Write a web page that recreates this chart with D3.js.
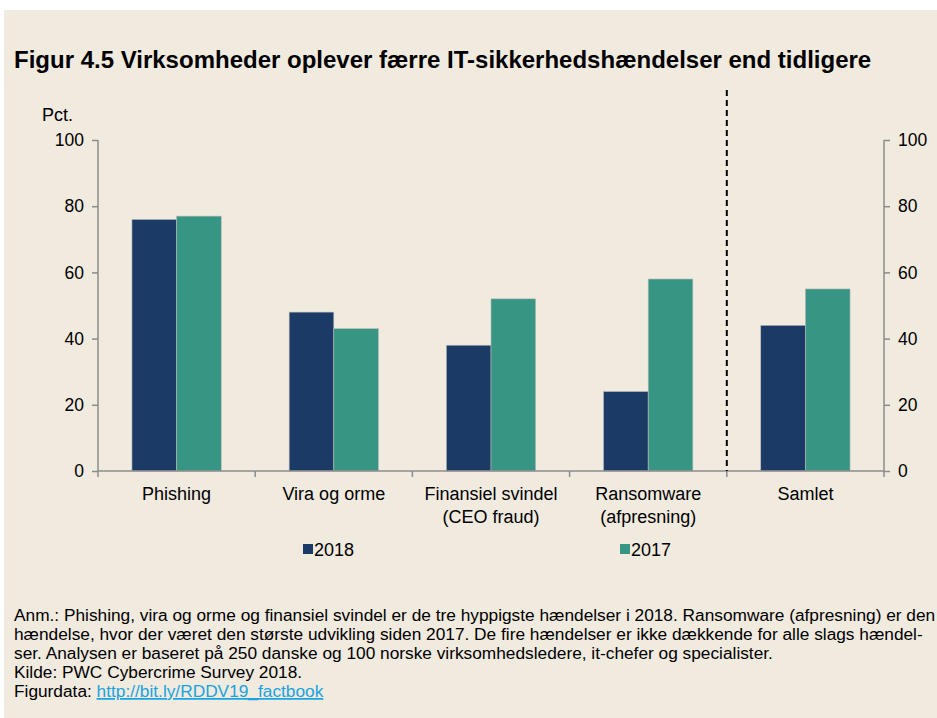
<!DOCTYPE html>
<html>
<head>
<meta charset="utf-8">
<script src="https://cdn.jsdelivr.net/npm/d3@7"></script>
<style>
  html, body { margin: 0; padding: 0; background: #ffffff; }
  svg { display: block; }
  text { font-family: "Liberation Sans", Arial, sans-serif; }
</style>
</head>
<body>
<svg id="chart" width="937" height="718"></svg>
<script>
// Chart data
const categories = ["Phishing", "Vira og orme", "Finansiel svindel\n(CEO fraud)", "Ransomware\n(afpresning)", "Samlet"];
const series2018 = [76, 48, 38, 24, 44];
const series2017 = [77, 43, 52, 58, 55];
const seriesNames = ["2018", "2017"];
const yTicks = [0, 20, 40, 60, 80, 100];

const title = "Figur 4.5 Virksomheder oplever færre IT-sikkerhedshændelser end tidligere";
const notes = [
  "Anm.: Phishing, vira og orme og finansiel svindel er de tre hyppigste hændelser i 2018. Ransomware (afpresning) er den",
  "hændelse, hvor der været den største udvikling siden 2017. De fire hændelser er ikke dækkende for alle slags hændel-",
  "ser. Analysen er baseret på 250 danske og 100 norske virksomhedsledere, it-chefer og specialister.",
  "Kilde: PWC Cybercrime Survey 2018."
];
const linkLabel = "Figurdata: ";
const linkText = "http://bit.ly/RDDV19_factbook";

(function draw() {
  const colors = { "2018": "#1b3a66", "2017": "#379584" };
  const axisColor = "#8c8c8c";

  const svg = d3.select("#chart");

  // Beige panel
  svg.append("rect").attr("x", 4).attr("y", 10).attr("width", 933).attr("height", 708).attr("fill", "#f0eadf");

  // Title
  svg.append("text").attr("x", 14).attr("y", 68)
    .attr("font-size", 24).attr("font-weight", "bold").attr("fill", "#000")
    .text(title);

  // Plot geometry
  const plotL = 98, plotR = 884, plotT = 140, plotB = 471;

  const x = d3.scaleBand().domain(d3.range(categories.length)).range([plotL, plotR]).padding(0);
  const y = d3.scaleLinear().domain([0, 100]).range([plotB, plotT]);
  const barW = x.bandwidth() * 0.284;

  // Bars
  const g = svg.append("g");
  categories.forEach((c, i) => {
    const cx = x(i) + x.bandwidth() / 2;
    [["2018", series2018[i], cx - barW], ["2017", series2017[i], cx]].forEach(([name, v, bx]) => {
      g.append("rect")
        .attr("x", bx).attr("y", y(v))
        .attr("width", barW).attr("height", y(0) - y(v))
        .attr("fill", colors[name])
        .attr("stroke", "#b8b8b8").attr("stroke-width", 0.6);
    });
  });

  // Left and right value axes
  const gl = svg.append("g").attr("transform", `translate(${plotL},0)`)
    .call(d3.axisLeft(y).tickValues(yTicks).tickSize(6).tickPadding(8));
  const gr = svg.append("g").attr("transform", `translate(${plotR},0)`)
    .call(d3.axisRight(y).tickValues(yTicks).tickSize(6).tickPadding(8));
  [gl, gr].forEach(a => {
    a.select(".domain").attr("stroke", axisColor).attr("stroke-width", 1.5).attr("d", `M0,${plotT}V${plotB}`);
    a.selectAll(".tick line").attr("stroke", axisColor).attr("stroke-width", 1.5);
    a.selectAll(".tick text").attr("font-size", 17.5).attr("fill", "#000")
      .attr("font-family", "Liberation Sans, Arial, sans-serif");
  });

  // Bottom axis line with ticks at category boundaries
  svg.append("line").attr("x1", plotL).attr("x2", plotR).attr("y1", plotB).attr("y2", plotB)
    .attr("stroke", axisColor).attr("stroke-width", 1.5);
  d3.range(categories.length + 1).forEach(k => {
    const tx = plotL + k * x.step();
    svg.append("line").attr("x1", tx).attr("x2", tx).attr("y1", plotB).attr("y2", plotB + 6)
      .attr("stroke", axisColor).attr("stroke-width", 1.5);
  });

  // Category labels
  categories.forEach((c, i) => {
    const t = svg.append("text").attr("text-anchor", "middle").attr("font-size", 18).attr("fill", "#000");
    c.split("\n").forEach((line, j) => {
      t.append("tspan").attr("x", x(i) + x.bandwidth() / 2).attr("y", 500 + j * 23).text(line);
    });
  });

  // Separator before the total
  const sepX = x(categories.length - 1);
  svg.append("line").attr("x1", sepX).attr("x2", sepX).attr("y1", 90).attr("y2", plotB)
    .attr("stroke", "#000").attr("stroke-width", 2).attr("stroke-dasharray", "6,4");

  // Unit label
  svg.append("text").attr("x", 42).attr("y", 121).attr("font-size", 18).attr("fill", "#000").text("Pct.");

  // Legend
  const legendX = [303, 620];
  seriesNames.forEach((name, i) => {
    svg.append("rect").attr("x", legendX[i]).attr("y", 544).attr("width", 10).attr("height", 10).attr("fill", colors[name]);
    svg.append("text").attr("x", legendX[i] + 11).attr("y", 556).attr("font-size", 18).attr("fill", "#000").text(name);
  });

  // Notes
  notes.forEach((line, i) => {
    svg.append("text").attr("x", 14).attr("y", 621 + i * 19).attr("font-size", 17.3).attr("fill", "#000").text(line);
  });
  const lastY = 621 + notes.length * 19;
  const lt = svg.append("text").attr("x", 14).attr("y", lastY).attr("font-size", 17.3).attr("fill", "#000");
  lt.append("tspan").text(linkLabel);
  lt.append("tspan").attr("fill", "#1aa3e0").attr("text-decoration", "underline").text(linkText);
})();
</script>
</body>
</html>
